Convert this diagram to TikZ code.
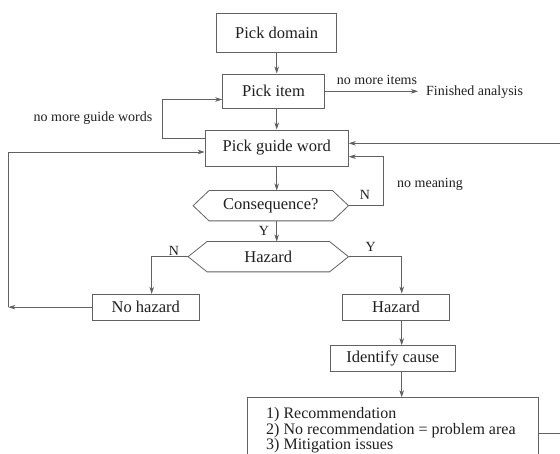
\documentclass[tikz,border=0pt]{standalone}
\usepackage{fontspec}
\setmainfont{Liberation Serif}
\usetikzlibrary{arrows.meta}
\definecolor{linec}{gray}{0.38}
\definecolor{textc}{gray}{0.12}
\begin{document}
\begin{tikzpicture}[x=1pt,y=-1pt,
  box/.style={draw=linec, line width=0.8pt, fill=white, inner sep=0pt,
    font=\fontsize{16.5}{18}\selectfont, text=textc},
  hexnode/.style={inner sep=0pt, font=\fontsize{16.5}{18}\selectfont, text=textc},
  lbl/.style={inner sep=0pt, font=\fontsize{14}{16}\selectfont, text=textc},
  listline/.style={inner sep=0pt, anchor=base west, text height=10.5pt, text depth=3pt,
    font=\fontsize{16}{17}\selectfont, text=textc},
  ln/.style={draw=linec, line width=0.8pt},
  arr/.style={ln, -{Stealth[length=7pt,width=4.5pt,inset=2pt]}}]
\useasboundingbox (0,0) rectangle (560,454);
\clip (0,0) rectangle (560,454);

% boxes
\node[box, minimum width=120pt, minimum height=39pt] (dom) at (276.7,32.8) {Pick domain};
\node[box, minimum width=101.6pt, minimum height=34.7pt] (item) at (273.5,91.3) {Pick item};
\node[box, minimum width=143.3pt, minimum height=36pt] (pgw) at (276.7,148) {Pick guide word};
\node[hexnode, minimum width=155pt, minimum height=30pt] (cons) at (270.8,205.7) {Consequence?};
\node[hexnode, minimum width=160pt, minimum height=30pt] (hzd) at (268.3,256.7) {Hazard};
\node[box, minimum width=107pt, minimum height=25.7pt] (nohaz) at (145.8,307.2) {No hazard};
\node[box, minimum width=106.6pt, minimum height=26pt] (hazbox) at (396,307) {Hazard};
\node[box, minimum width=124.3pt, minimum height=26pt] (cause) at (392.8,358.7) {Identify cause};
\node[box, minimum width=290.4pt, minimum height=72pt, anchor=north west] (rec) at (247.3,397.3) {};
\node[listline] (rec1) at (266,418.8) {1) Recommendation};
\node[listline] (rec2) at (266,434.2) {2) No recommendation = problem area};
\node[listline] (rec3) at (266,449.6) {3) Mitigation issues};

% hexagonal decision outlines
\foreach \n/\d in {cons/16, hzd/19}
  \draw[ln] (\n.west) -- ([xshift=\d pt]\n.north west) -- ([xshift=-\d pt]\n.north east)
    -- (\n.east) -- ([xshift=-\d pt]\n.south east) -- ([xshift=\d pt]\n.south west) -- cycle;

% labels
\node[lbl] (lnoitems) at (377,80) {no more items};
\node[lbl, anchor=west] (fin) at (426,92.5) {Finished analysis};
\node[lbl] (lnoguide) at (93,118) {no more guide words};
\node[lbl] (lnomean) at (430,184) {no meaning};
\node[lbl] (lcn) at (365,195) {N};
\node[lbl] (lcy) at (264,230.7) {Y};
\node[lbl] (lhn) at (174,251) {N};
\node[lbl] (lhy) at (370.7,247) {Y};

% helper coordinates
\coordinate (vx) at (401.7,0);
\coordinate (lcorner) at (8.3,307.2);

% main spine
\draw[arr] (dom.south) -- (dom.south |- item.north);
\draw[arr] (item.south -| dom.south) -- (pgw.north);
\draw[arr] (pgw.south) -- (pgw.south |- cons.north);
\draw[arr] (pgw.south |- cons.south) -- (pgw.south |- hzd.north);

% exit to finished analysis
\draw[arr] (item.east) -- ([xshift=-8pt]fin.west |- item.east);

% back to next item
\draw[arr] ([yshift=10pt]pgw.west) -- ++(-42,0) |- ([yshift=-8.2pt]item.west);

% no meaning loop
\draw[arr] (cons.east) -- ++(35,0) |- ([yshift=-8.7pt]pgw.east);

% hazard branches
\draw[arr] (hzd.west) -| ([xshift=5.9pt]nohaz.north);
\draw[arr] (hzd.east) -| (hazbox.north -| vx);
\draw[arr] (hazbox.south -| vx) -- (cause.north -| vx);
\draw[arr] (cause.south -| vx) -- (rec.north -| vx);

% no hazard returns to the guide word
\draw[arr] (nohaz.west) -- (lcorner);
\draw[arr] (lcorner) -- (lcorner |- 0,152) -- ([yshift=-4pt]pgw.west);

% results return to the guide word
\draw[arr] (rec.east) -- ++(40,0) |- ([yshift=4.7pt]pgw.east);
\end{tikzpicture}
\end{document}
